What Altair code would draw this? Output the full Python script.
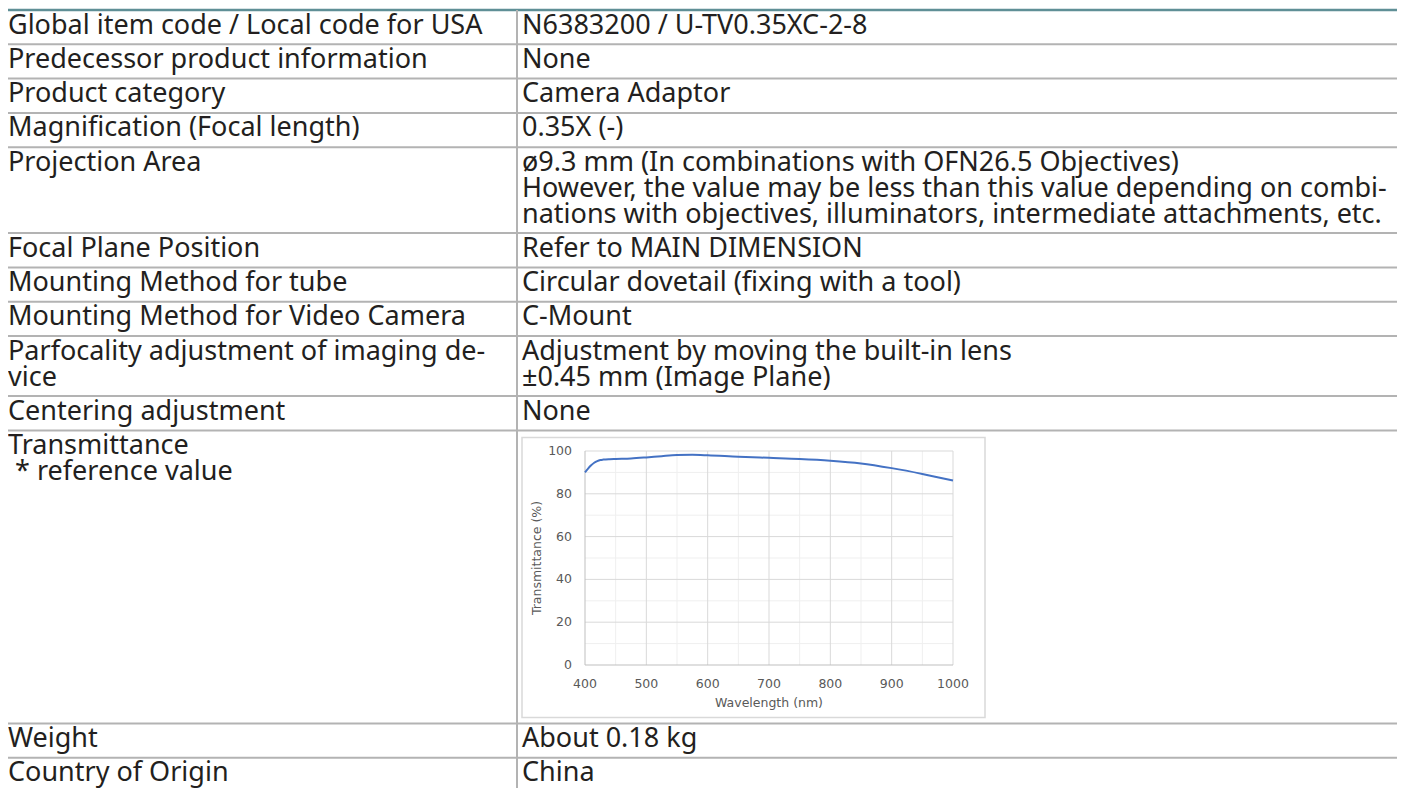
import altair as alt
import pandas as pd

# ---------------- data ----------------
row_labels = [
    "Global item code / Local code for USA",
    "Predecessor product information",
    "Product category",
    "Magnification (Focal length)",
    "Projection Area",
    "Focal Plane Position",
    "Mounting Method for tube",
    "Mounting Method for Video Camera",
    "Parfocality adjustment of imaging de-\nvice",
    "Centering adjustment",
    "Transmittance\n\u200b\u00a0* reference value",
    "Weight",
    "Country of Origin",
]
row_values = [
    "N6383200 / U-TV0.35XC-2-8",
    "None",
    "Camera Adaptor",
    "0.35X (-)",
    "ø9.3 mm (In combinations with OFN26.5 Objectives)\n"
    "However, the value may be less than this value depending on combi-\n"
    "nations with objectives, illuminators, intermediate attachments, etc.",
    "Refer to MAIN DIMENSION",
    "Circular dovetail (fixing with a tool)",
    "C-Mount",
    "Adjustment by moving the built-in lens\n±0.45 mm (Image Plane)",
    "None",
    "",
    "About 0.18 kg",
    "China",
]

wavelength = [400, 405, 410, 415, 420, 425, 430, 440, 450, 475, 500, 525,
              550, 575, 600, 650, 700, 750, 800, 850, 900, 950, 1000]
transmittance = [90.0, 91.8, 93.3, 94.5, 95.3, 95.8, 96.0, 96.2, 96.3, 96.5,
                 97.0, 97.6, 98.1, 98.2, 98.0, 97.3, 96.8, 96.3, 95.5, 94.2,
                 92.0, 89.3, 86.2]

x_ticks = [400, 500, 600, 700, 800, 900, 1000]
x_minor = [450, 550, 650, 750, 850, 950]
y_ticks = [0, 20, 40, 60, 80, 100]
y_minor = [10, 30, 50, 70, 90]

# ---------------- layout ----------------
W, H = 1390, 780
FONT = "Noto Sans"
FS = 27
LINE_H = 26
ROW_BASE = 34.3
ROW_EXTRA = 25.8
CHART_ROW = 10
CHART_ROW_H = 293
TOP0 = 2
COL_X = 509
TEXT_PAD = 5
BASE_OFF = 23.5
TXT = "#231f20"
GRID_LINE = "#b3b3b3"
TEAL = "#5f8f96"

heights = []
for i, (lab, val) in enumerate(zip(row_labels, row_values)):
    n = max(lab.count("\n"), val.count("\n")) + 1
    heights.append(CHART_ROW_H if i == CHART_ROW else ROW_BASE + (n - 1) * ROW_EXTRA)
tops = [TOP0]
for h in heights:
    tops.append(tops[-1] + h)

rows = pd.DataFrame({
    "label": row_labels,
    "value": row_values,
    "base": [t + BASE_OFF for t in tops[:-1]],
})
hlines = pd.DataFrame({"y": tops[:len(row_labels)]})

tx = alt.Scale(domain=[0, W], range=[0, W], nice=False, zero=False)
ty = alt.Scale(domain=[0, H], range=[0, H], nice=False, zero=False)

top_rule = alt.Chart(hlines.iloc[:1]).mark_rule(color=TEAL, strokeWidth=2.5).encode(
    x=alt.value(0), x2=alt.value(W - 1),
    y=alt.Y("y:Q", scale=ty, axis=None),
)
row_rules = alt.Chart(hlines.iloc[1:]).mark_rule(color=GRID_LINE, strokeWidth=2).encode(
    x=alt.value(0), x2=alt.value(W - 1),
    y=alt.Y("y:Q", scale=ty, axis=None),
)
vsep = alt.Chart(pd.DataFrame({"x": [COL_X], "y": [TOP0], "y2": [H]})).mark_rule(
    color=GRID_LINE, strokeWidth=2
).encode(
    x=alt.X("x:Q", scale=tx, axis=None),
    y=alt.Y("y:Q", scale=ty, axis=None),
    y2="y2:Q",
)
left_text = alt.Chart(rows).mark_text(
    align="left", baseline="alphabetic", font=FONT, fontSize=FS,
    lineHeight=LINE_H, lineBreak="\n", color=TXT,
).encode(
    x=alt.value(0),
    y=alt.Y("base:Q", scale=ty, axis=None),
    text="label:N",
)
right_text = alt.Chart(rows).mark_text(
    align="left", baseline="alphabetic", font=FONT, fontSize=FS,
    lineHeight=LINE_H, lineBreak="\n", color=TXT,
).encode(
    x=alt.value(COL_X + TEXT_PAD),
    y=alt.Y("base:Q", scale=ty, axis=None),
    text="value:N",
)
box = alt.Chart(pd.DataFrame({
    "x": [COL_X + 5], "x2": [COL_X + 468],
    "y": [tops[CHART_ROW] + 7], "y2": [tops[CHART_ROW + 1] - 6],
})).mark_rect(fill="white", stroke="#d9d9d9", strokeWidth=1.5).encode(
    x=alt.X("x:Q", scale=tx, axis=None), x2="x2:Q",
    y=alt.Y("y:Q", scale=ty, axis=None), y2="y2:Q",
)

table = alt.layer(box, row_rules, top_rule, vsep, left_text, right_text)

# ---------------- embedded transmittance chart ----------------
px = alt.Scale(domain=[400, 1000], range=[577, 945], nice=False, zero=False)
py = alt.Scale(domain=[0, 100], range=[657, 443], nice=False, zero=False)
CF = "DejaVu Sans"
CFS = 12.5
LBL = "#595959"

def vgrid(vals, color, width=1):
    df = pd.DataFrame({"x": vals, "lo": 0, "hi": 100})
    return alt.Chart(df).mark_rule(color=color, strokeWidth=width).encode(
        x=alt.X("x:Q", scale=px, axis=None),
        y=alt.Y("lo:Q", scale=py, axis=None), y2="hi:Q",
    )

def hgrid(vals, color, width=1):
    df = pd.DataFrame({"y": vals, "lo": 400, "hi": 1000})
    return alt.Chart(df).mark_rule(color=color, strokeWidth=width).encode(
        y=alt.Y("y:Q", scale=py, axis=None),
        x=alt.X("lo:Q", scale=px, axis=None), x2="hi:Q",
    )

curve = alt.Chart(pd.DataFrame({"wl": wavelength, "t": transmittance})).mark_line(
    color="#4472c4", strokeWidth=2, interpolate="monotone"
).encode(
    x=alt.X("wl:Q", scale=px, axis=None),
    y=alt.Y("t:Q", scale=py, axis=None),
)

xlab = alt.Chart(pd.DataFrame({"v": x_ticks})).mark_text(
    font=CF, fontSize=CFS, color=LBL, baseline="middle", align="center"
).encode(
    x=alt.X("v:Q", scale=px, axis=None), y=alt.value(676), text="v:Q",
)
ylab = alt.Chart(pd.DataFrame({"v": y_ticks})).mark_text(
    font=CF, fontSize=CFS, color=LBL, baseline="middle", align="right"
).encode(
    y=alt.Y("v:Q", scale=py, axis=None), x=alt.value(564), text="v:Q",
)
xtitle = alt.Chart(pd.DataFrame({"t": ["Wavelength (nm)"]})).mark_text(
    font=CF, fontSize=CFS, color=LBL, baseline="middle", align="center"
).encode(x=alt.value(761), y=alt.value(695), text="t:N")
ytitle = alt.Chart(pd.DataFrame({"t": ["Transmittance (%)"]})).mark_text(
    font=CF, fontSize=CFS, color=LBL, baseline="middle", align="center", angle=270
).encode(x=alt.value(529), y=alt.value(550), text="t:N")

plot = alt.layer(
    vgrid(x_minor, "#efefef"), hgrid(y_minor, "#efefef"),
    vgrid(x_ticks[1:], "#d9d9d9"), hgrid(y_ticks[1:], "#d9d9d9"),
    vgrid([400], "#bfbfbf"), hgrid([0], "#bfbfbf"),
    curve, xlab, ylab, xtitle, ytitle,
)

chart = alt.layer(table, plot).resolve_scale(
    x="independent", y="independent"
).properties(
    width=W, height=H, padding=0,
    autosize=alt.AutoSizeParams(type="none"),
).configure_view(stroke=None)

chart.save("out.html", embed_options={"renderer": "svg", "actions": False})
